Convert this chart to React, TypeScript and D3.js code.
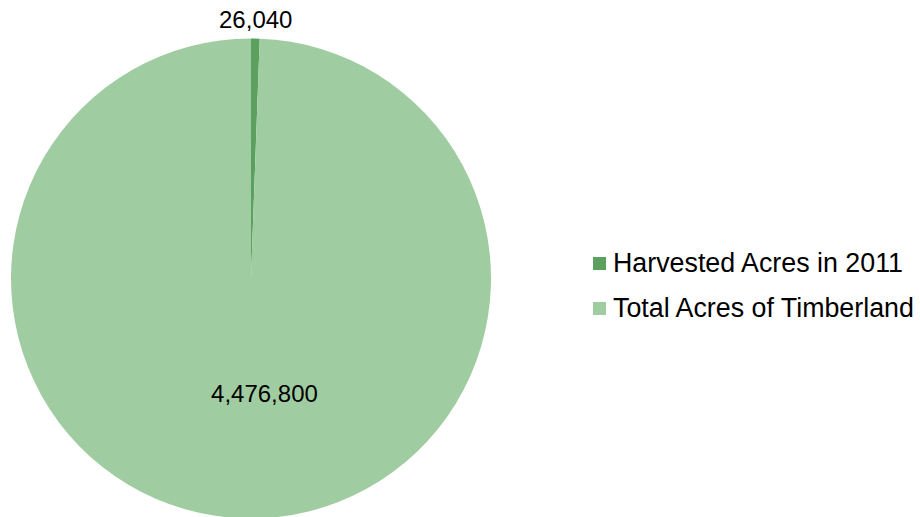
import React from "react";
import * as d3 from "d3";

const categories = ["Harvested Acres in 2011", "Total Acres of Timberland"];
const values = [26040, 4476800];
const colors = ["#5BA05E", "#A0CCA1"];

const W = 920;
const H = 517;
const cx = 251;
const cy = 278.5;
const R = 240;

export default function App() {
  const pie = d3.pie<number>().value((d) => d).sort(null);
  const arcs = pie(values);
  const arcGen = d3.arc<d3.PieArcDatum<number>>().innerRadius(0).outerRadius(R);
  const fmt = d3.format(",");

  const labelPos = (i: number): [number, number] => {
    const a = arcs[i];
    if (i === 0) {
      const mid = (a.startAngle + a.endAngle) / 2;
      const rr = R + 19;
      return [Math.sin(mid) * rr, -Math.cos(mid) * rr];
    }
    return [R * 0.056, R * 0.48];
  };

  return (
    <svg
      width={W}
      height={H}
      style={{ position: "absolute", left: 0, top: 0, background: "#fff" }}
      fontFamily="'Liberation Sans', Arial, sans-serif"
    >
      <g transform={`translate(${cx},${cy})`}>
        {arcs.map((a, i) => (
          <path key={i} d={arcGen(a) || ""} fill={colors[i]} />
        ))}
        {arcs.map((a, i) => {
          const [x, y] = labelPos(i);
          return (
            <text
              key={"l" + i}
              x={x}
              y={y}
              textAnchor="middle"
              dominantBaseline="central"
              fontSize={24}
              fill="#000"
            >
              {fmt(values[i])}
            </text>
          );
        })}
      </g>
      <g transform="translate(593,257)">
        {categories.map((c, i) => (
          <g key={c} transform={`translate(0,${i * 45})`}>
            <rect width={13} height={13} fill={colors[i]} />
            <text x={20} y={15} fontSize={26.8} fill="#000">
              {c}
            </text>
          </g>
        ))}
      </g>
    </svg>
  );
}
